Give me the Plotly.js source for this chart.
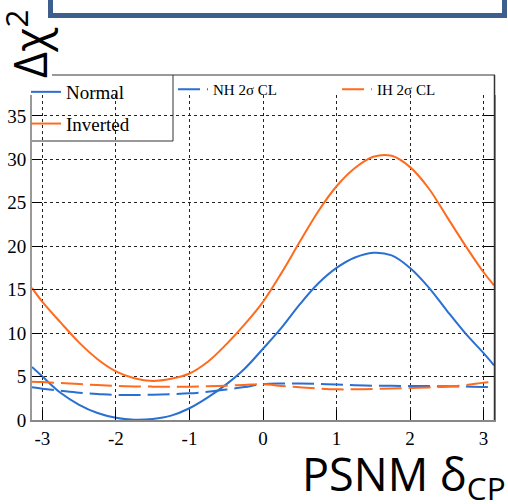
<!DOCTYPE html>
<html>
<head>
<meta charset="utf-8">
<script src="https://cdn.plot.ly/plotly-3.0.1.min.js"></script>
<style>html,body{margin:0;padding:0;background:#fff;}#chart{width:508px;height:504px;}</style>
</head>
<body>
<div id="chart"></div>
<script>
// delta_CP sample points (radians)
const deltaCP = [-3.1416, -3.0, -2.75, -2.5, -2.25, -2.0, -1.75, -1.5, -1.25, -1.0, -0.75, -0.5, -0.25, 0.0, 0.25, 0.5, 0.75, 1.0, 1.25, 1.5, 1.75, 2.0, 2.25, 2.5, 2.75, 3.0, 3.1416];
// Normal hierarchy Δχ²
const normalChi2 = [6.1, 5.0, 3.1, 1.75, 0.8, 0.25, 0.03, 0.12, 0.5, 1.35, 2.6, 4.1, 5.9, 8.2, 10.6, 13.3, 15.7, 17.5, 18.7, 19.25, 18.95, 17.5, 15.3, 12.6, 10.0, 7.7, 6.3];
// Inverted hierarchy Δχ²
const invertedChi2 = [15.2, 13.6, 11.2, 8.9, 7.0, 5.6, 4.8, 4.5, 4.75, 5.35, 6.7, 8.7, 11.0, 13.6, 16.9, 20.5, 24.0, 26.9, 29.0, 30.3, 30.4, 29.1, 26.7, 23.4, 20.1, 17.0, 15.5];
// NH 2σ CL threshold
const nhCL = [3.76, 3.6, 3.36, 3.14, 3.0, 2.88, 2.88, 2.92, 2.98, 3.07, 3.25, 3.5, 3.8, 4.12, 4.2, 4.2, 4.15, 4.08, 4.0, 3.95, 3.93, 3.92, 3.9, 3.88, 3.85, 3.8, 3.76];
// IH 2σ CL threshold
const ihCL = [4.41, 4.37, 4.25, 4.14, 4.02, 3.91, 3.86, 3.84, 3.83, 3.84, 3.88, 3.95, 4.04, 4.12, 3.92, 3.76, 3.62, 3.53, 3.53, 3.57, 3.62, 3.68, 3.75, 3.84, 4.02, 4.3, 4.41];

const xTickVals = [-3, -2, -1, 0, 1, 2, 3];
const xTickText = ['-3', '-2', '-1', '0', '1', '2', '3'];
const yTickVals = [0, 5, 10, 15, 20, 25, 30, 35];
const yTickText = ['0', '5', '10', '15', '20', '25', '30', '35'];

const BLUE = '#2a6fd2';
const ORANGE = '#ff6b1e';

const L = 32, R = 494, T = 95, B = 420;
const px = v => (v - L) / (R - L);
const py = v => (B - v) / (B - T);

const traces = [
  {x: deltaCP, y: normalChi2, name: 'Normal', mode: 'lines', line: {color: BLUE, width: 2, shape: 'spline'}, legend: 'legend', legendgroup: 'a'},
  {x: deltaCP, y: invertedChi2, name: 'Inverted', mode: 'lines', line: {color: ORANGE, width: 2, shape: 'spline'}, legend: 'legend', legendgroup: 'b'},
  {x: deltaCP, y: nhCL, name: 'NH 2σ CL', mode: 'lines', line: {color: BLUE, width: 2, shape: 'spline', dash: '22px,7px'}, legend: 'legend2'},
  {x: deltaCP, y: ihCL, name: 'IH 2σ CL', mode: 'lines', line: {color: ORANGE, width: 2, shape: 'spline', dash: '22px,7px'}, legend: 'legend3'}
];

const serif = '"Liberation Serif", "Times New Roman", serif';
const sans = '"Open Sans", "Noto Sans", sans-serif';

const smallLegend = (xp) => ({
  x: px(xp), y: py(73), xanchor: 'left', yanchor: 'top',
  bgcolor: 'rgba(0,0,0,0)', borderwidth: 0,
  font: {family: serif, size: 15, color: '#000'}, itemwidth: 30
});

const layout = {
  width: 508, height: 504,
  margin: {l: L, r: 508 - R, t: T, b: 504 - B, pad: 0},
  paper_bgcolor: '#fff', plot_bgcolor: '#fff',
  showlegend: true,
  xaxis: {
    range: [-3.1416, 3.1416], tickvals: xTickVals, ticktext: xTickText,
    ticks: 'inside', ticklen: 10, tickcolor: '#000', tickwidth: 1,
    showline: true, linecolor: '#888', linewidth: 2,
    showgrid: true, gridcolor: '#222', gridwidth: 1, griddash: 'dot',
    zeroline: false, tickfont: {family: serif, size: 19, color: '#000'}
  },
  yaxis: {
    range: [0, 37.4], tickvals: yTickVals, ticktext: yTickText,
    ticks: 'inside', ticklen: 10, tickcolor: '#000', tickwidth: 1,
    showline: true, linecolor: '#999', linewidth: 2, mirror: 'ticks',
    showgrid: true, gridcolor: '#222', gridwidth: 1, griddash: 'dot',
    zeroline: false, tickfont: {family: serif, size: 19, color: '#000'}
  },
  legend: {
    x: px(26), y: py(73), xanchor: 'left', yanchor: 'top',
    bgcolor: 'rgba(0,0,0,0)', borderwidth: 0,
    font: {family: serif, size: 19, color: '#000'},
    traceorder: 'grouped', tracegroupgap: 4, itemwidth: 30
  },
  legend2: smallLegend(173),
  legend3: smallLegend(337),
  shapes: [
    {type: 'rect', xref: 'paper', yref: 'paper', x0: px(33), x1: px(173), y0: py(141), y1: py(76), fillcolor: '#fff', line: {width: 0}, layer: 'between'},
    {type: 'rect', xref: 'paper', yref: 'paper', x0: px(50.5), x1: px(504.5), y0: py(15.5), y1: py(-10), fillcolor: '#fff', line: {color: '#3e5f8e', width: 5}},
    {type: 'line', xref: 'paper', yref: 'paper', x0: px(52), x1: px(495), y0: py(75), y1: py(75), line: {color: '#999', width: 2}},
    {type: 'line', xref: 'paper', yref: 'paper', x0: px(173), x1: px(173), y0: py(75), y1: py(141), line: {color: '#333', width: 1}},
    {type: 'line', xref: 'paper', yref: 'paper', x0: px(32), x1: px(173), y0: py(141), y1: py(141), line: {color: '#333', width: 1}},
    {type: 'line', xref: 'paper', yref: 'paper', x0: px(494.5), x1: px(494.5), y0: py(75), y1: py(420), line: {color: '#333', width: 1.5}}
  ],
  annotations: [
    {text: 'Δχ<sup>2</sup>', xref: 'paper', yref: 'paper', x: px(27), y: py(44), xanchor: 'center', yanchor: 'middle', textangle: -90, showarrow: false, font: {family: sans, size: 45, color: '#000'}},
    {text: 'PSNM δ<sub>CP</sub>', xref: 'paper', yref: 'paper', x: px(508), y: py(476), xanchor: 'right', yanchor: 'middle', showarrow: false, font: {family: sans, size: 45, color: '#000'}}
  ]
};

Plotly.newPlot('chart', traces, layout, {displayModeBar: false, staticPlot: true});
</script>
</body>
</html>
